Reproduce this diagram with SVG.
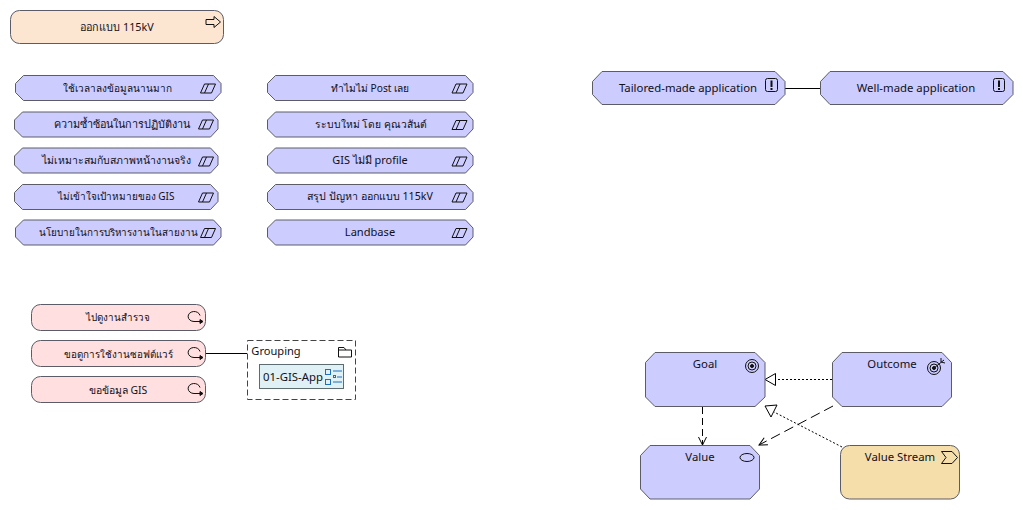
<svg xmlns="http://www.w3.org/2000/svg" width="1023" height="510" viewBox="0 0 1023 510">
<style>
text{font-family:"Noto Sans","Open Sans","Noto Sans CJK SC",sans-serif;font-size:11.350px;fill:#101020;text-anchor:middle}
.b{fill:#ccccff;stroke:#5c5c68;stroke-width:1}
.o{fill:#fce6d2;stroke:#5c5c68}
.p{fill:#ffdfdf;stroke:#5c5c68}
.y{fill:#f5deaa;stroke:#5c5c68}
.i{fill:none;stroke:#111;stroke-width:1}
.e{fill:none;stroke:#111;stroke-width:2}
.c{fill:none;stroke:#000;stroke-width:1}
</style>
<defs>
<path id="hex" d="M8 0H198L205.500 8V17L198 25H8L0 17V8Z"/>
<path id="hex2" d="M8 0H196L203.500 8V17L196 25H8L0 17V8Z"/>
<g id="course" class="i"><path d="M1 10L5 1H16L12 10ZM9 1L5 10"/></g>
<g id="proc" class="i"><path d="M12 4A6 5 0 1 0 6 10H12"/><path d="M12 8L15 10L12 12Z" fill="#111"/></g>
<marker id="open" viewBox="0 0 10 10" refX="9" refY="5" markerWidth="10" markerHeight="10" orient="auto" markerUnits="userSpaceOnUse"><path d="M1 1L9 5L1 9" fill="none" stroke="#000"/></marker>
</defs>

<g id="connectors">
<path class="c" d="M785 88.500H820"/>
<path class="c" d="M206 353.500H247"/>
<path class="c" stroke-dasharray="2 2" d="M832 379.500H776"/>
<path class="c" stroke-dasharray="2 2" d="M842 447L774 412"/>
<path class="c" stroke-dasharray="7 4" d="M702.500 407V445" marker-end="url(#open)"/>
<path class="c" stroke-dasharray="10 5" d="M833 406L759 445" marker-end="url(#open)"/>
<path d="M775.500 373.500V385.500L765 379.500Z" fill="#fff" stroke="#000"/>
<path d="M765 406L777 405L771 417Z" fill="#fff" stroke="#000"/>
</g>

<g id="n-design"><rect class="o" x="10.500" y="10.500" width="213" height="33" rx="9"/><text x="117" y="30.500" style="font-size:10.800px">ออกแบบ 115kV</text><path class="i" d="M206 19.500H214V16.500L220.500 22L214 27.500V24.500H206Z"/></g>

<g id="n-a1"><use href="#hex" class="b" transform="translate(15.500 75.500)"/><text x="117.500" y="91.500" style="font-size:10px">ใช้เวลาลงข้อมูลนานมาก</text><use href="#course" transform="translate(199.500 83)"/></g>
<g id="n-a2"><use href="#hex2" class="b" transform="translate(14.500 112)"/><text x="122" y="128" style="font-size:10.800px">ความซ้ำซ้อนในการปฏิบัติงาน</text><use href="#course" transform="translate(197.500 119)"/></g>
<g id="n-a3"><use href="#hex2" class="b" transform="translate(14.500 148)"/><text x="116" y="164" style="font-size:10.450px">ไม่เหมาะสมกับสภาพหน้างานจริง</text><use href="#course" transform="translate(197.500 156)"/></g>
<g id="n-a4"><use href="#hex2" class="b" transform="translate(14.500 184.500)"/><text x="116" y="200" style="font-size:10px">ไม่เข้าใจเป้าหมายของ GIS</text><use href="#course" transform="translate(197.500 192)"/></g>
<g id="n-a5"><use href="#hex" class="b" transform="translate(15.500 220)"/><text x="118.500" y="236" style="font-size:9.850px">นโยบายในการบริหารงานในสายงาน</text><use href="#course" transform="translate(199.500 227.500)"/></g>

<g id="n-b1"><use href="#hex" class="b" transform="translate(267.500 75.500)"/><text x="370" y="91.500" style="font-size:10.200px">ทำไมไม่ Post เลย</text><use href="#course" transform="translate(451 83)"/></g>
<g id="n-b2"><use href="#hex" class="b" transform="translate(267.500 112)"/><text x="371" y="128" style="font-size:10.300px">ระบบใหม่ โดย คุณวสันต์</text><use href="#course" transform="translate(451 119.500)"/></g>
<g id="n-b3"><use href="#hex" class="b" transform="translate(267.500 148)"/><text x="370" y="164" style="font-size:10.900px">GIS ไม่มี profile</text><use href="#course" transform="translate(451 156)"/></g>
<g id="n-b4"><use href="#hex" class="b" transform="translate(267.500 184.500)"/><text x="370" y="200" style="font-size:10.650px">สรุป ปัญหา ออกแบบ 115kV</text><use href="#course" transform="translate(451 192)"/></g>
<g id="n-b5"><use href="#hex" class="b" transform="translate(267.500 220)"/><text x="370" y="236" style="font-size:11.100px">Landbase</text><use href="#course" transform="translate(451 227.500)"/></g>

<g id="n-tailored"><path class="b" d="M602 71.500H775L785 81.500V94.500L775 104.500H602L592.500 94.500V81.500Z"/><text x="688" y="92">Tailored-made application</text><rect class="i" x="765.500" y="78.500" width="12" height="13" rx="2"/><path class="e" d="M771.500 80.500V87M771.500 88V90"/></g>
<g id="n-wellmade"><path class="b" d="M830 71.500H1003L1013 81.500V94.500L1003 104.500H830L820.500 94.500V81.500Z"/><text x="916" y="92">Well-made application</text><rect class="i" x="993.500" y="78.500" width="11" height="13" rx="2"/><path class="e" d="M999 80.500V87M999 88V90"/></g>

<g id="n-c1"><rect class="p" x="31.500" y="304.500" width="174" height="26" rx="9"/><text x="118" y="321" style="font-size:9.800px">ไปดูงานสำรวจ</text><use href="#proc" transform="translate(188 311.500)"/></g>
<g id="n-c2"><rect class="p" x="31.500" y="340.500" width="174" height="26" rx="9"/><text x="118" y="358" style="font-size:9.800px">ขอดูการใช้งานซอฟต์แวร์</text><use href="#proc" transform="translate(188 347.500)"/></g>
<g id="n-c3"><rect class="p" x="31.500" y="376.500" width="174" height="26" rx="9"/><text x="118" y="394" style="font-size:10.400px">ขอข้อมูล GIS</text><use href="#proc" transform="translate(188 383.500)"/></g>

<g id="n-grouping"><rect x="247.500" y="340.500" width="108" height="59" fill="#fff" stroke="#444" stroke-dasharray="6 3"/><text x="276" y="354.500" style="font-size:11.100px">Grouping</text><path class="i" d="M338.500 357V347.500H344L346 350H351.500V357ZM338.500 350H346"/></g>
<g id="n-app"><rect x="259.500" y="364.500" width="84" height="24" fill="#dff1f5" stroke="#5c6c70"/><text x="293" y="381">01-GIS-App</text><g fill="none" stroke="#1f6fc0"><rect x="325.500" y="369.500" width="5" height="5"/><rect x="325.500" y="379.500" width="5" height="5"/><path d="M333 371H342M337 377H342M333 382H342"/><rect x="333.500" y="375.500" width="2" height="2"/></g></g>

<g id="n-goal"><path class="b" d="M655 352.500H755L765 362.500V397L755 406.500H655L645.500 397V362.500Z"/><text x="705" y="368">Goal</text><g class="i"><circle cx="752" cy="366" r="6.500"/><circle cx="752" cy="366" r="4"/><circle cx="752" cy="366" r="1.500" fill="#111"/></g></g>
<g id="n-outcome"><path class="b" d="M842 352.500H942L951.500 362.500V397L942 406.500H842L832.500 397V362.500Z"/><text x="892" y="368">Outcome</text><g class="i"><circle cx="934" cy="368" r="6.500"/><circle cx="934" cy="368" r="4"/><circle cx="934" cy="368" r="1.500" fill="#111"/><path d="M934 368L944 360M941 358L941 362L945 363"/></g></g>
<g id="n-value"><path class="b" d="M650 445.500H750L759.500 455.500V489L750 499H650L640.500 489V455.500Z"/><text x="700" y="461">Value</text><ellipse class="i" cx="747" cy="457.500" rx="7" ry="4"/></g>
<g id="n-stream"><rect class="y" x="840.500" y="445.500" width="119" height="53.500" rx="9"/><text x="900" y="461">Value Stream</text><path class="i" d="M941.500 451.500H952L957.500 457.500L952 463.500H941.500L946 457.500Z"/></g>
</svg>
